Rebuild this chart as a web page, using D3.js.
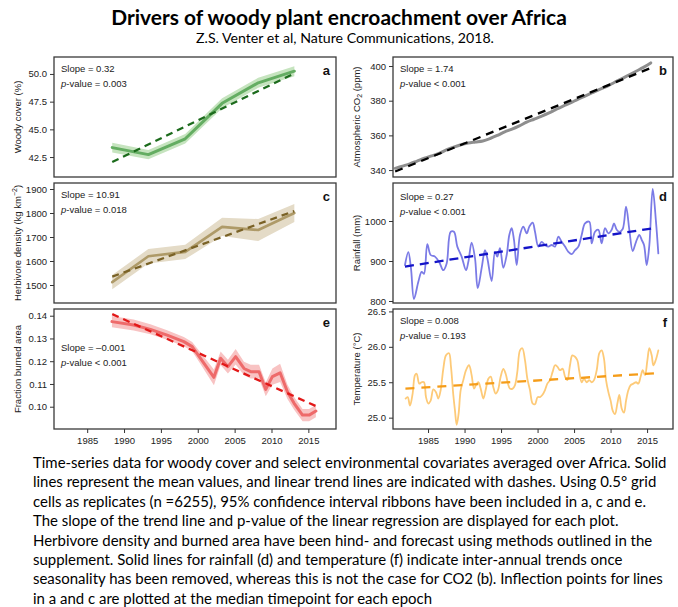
<!DOCTYPE html>
<html>
<head>
<meta charset="utf-8">
<title>Drivers of woody plant encroachment over Africa</title>
<script src="https://d3js.org/d3.v7.min.js"></script>
<style>
    body { margin: 0; background: #fff; }
    svg { display: block; }
    .tick text { font-family: "Liberation Sans", Arial, sans-serif; }
</style>
</head>
<body>
<script>
// ---- data ----
// epochs (a, c): median timepoint of each epoch
var epochYears = [1988.4, 1993.3, 1998.3, 2003.3, 2008.2, 2013.1];
var woodyMean = [43.35, 42.72, 44.15, 47.35, 49.2, 50.25];
var woodyCI = [0.45, 0.42, 0.42, 0.45, 0.45, 0.45];
var woodyTrend = [[1988.4, 42.05], [2013.1, 50.05]];

var herbMean = [1512, 1620, 1638, 1742, 1729, 1800];
var herbCI = [30, 30, 30, 38, 46, 38];
var herbTrend = [[1988.4, 1535], [2013.1, 1808]];

// b : CO2 (ppm)
var co2Years = [1980.5, 1981.5, 1982.5, 1983.5, 1984.5, 1985.5, 1986.5, 1987.5, 1988.5, 1989.5,
    1990.5, 1991.5, 1992.5, 1993.5, 1994.5, 1995.5, 1996.5, 1997.5, 1998.5, 1999.5,
    2000.5, 2001.5, 2002.5, 2003.5, 2004.5, 2005.5, 2006.5, 2007.5, 2008.5, 2009.5,
    2010.5, 2011.5, 2012.5, 2013.5, 2014.5, 2015.5];
var co2 = [341.0, 342.3, 343.6, 345.2, 346.8, 348.2, 349.6, 351.6, 353.2, 354.6,
    355.6, 356.2, 356.8, 358.2, 360.0, 362.0, 363.6, 365.5, 367.6, 369.3,
    371.0, 372.8, 374.9, 376.9, 378.7, 380.8, 382.7, 384.6, 386.5, 388.3,
    390.5, 392.6, 394.8, 397.0, 399.2, 401.8];
var co2Trend = [[1980.5, 339.2], [2015.6, 399.0]];

// d : rainfall (mm), seasonality removed
var rainYears = [1981.84, 1982.30, 1982.66, 1983.07, 1983.67, 1984.12, 1984.44, 1984.90, 1985.36, 1985.95,
    1986.54, 1987.09, 1987.55, 1988.10, 1988.55, 1989.01, 1989.60, 1990.20, 1990.52, 1990.97,
    1991.43, 1991.80, 1992.34, 1992.80, 1993.12, 1993.71, 1994.17, 1994.49, 1994.85, 1995.31,
    1995.77, 1996.13, 1996.45, 1996.77, 1997.14, 1997.59, 1998.05, 1998.51, 1998.87, 1999.33,
    1999.65, 2000.11, 2000.56, 2001.02, 2001.48, 2001.93, 2002.39, 2002.85, 2003.30, 2003.76,
    2004.22, 2004.67, 2005.13, 2005.59, 2006.04, 2006.50, 2007.09, 2007.41, 2007.87, 2008.33,
    2008.78, 2009.24, 2009.70, 2010.15, 2010.47, 2010.84, 2011.20, 2011.66, 2012.12, 2012.57,
    2013.03, 2013.49, 2013.94, 2014.26, 2014.58, 2014.95, 2015.31, 2015.77, 2016.22, 2016.54];
var rain = [890, 922, 882, 805, 848, 873, 868, 942, 915, 911,
    897, 877, 894, 973, 973, 936, 911, 877, 898, 946,
    907, 832, 882, 927, 907, 850, 923, 911, 932, 883,
    915, 965, 982, 953, 890, 965, 986, 969, 986, 996,
    973, 936, 948, 940, 936, 940, 936, 961, 948, 936,
    923, 917, 927, 936, 965, 994, 998, 944, 973, 978,
    944, 982, 969, 978, 994, 978, 973, 980, 1036, 978,
    925, 948, 965, 953, 940, 890, 940, 1080, 998, 919];
var rainTrend = [[1981.84, 886], [2016.2, 983]];

// e : fraction burned area
var fireYears = [1988.36, 1991.30, 1993.57, 1995.84, 1998.11, 1999.24, 2000.37, 2002.19, 2003.10, 2004.09,
    2005.14, 2006.27, 2007.18, 2008.31, 2009.22, 2010.12, 2011.17, 2012.16, 2013.07, 2014.21,
    2015.11, 2016.02];
var fireMean = [0.1374, 0.1359, 0.1340, 0.1315, 0.1286, 0.1264, 0.1213, 0.1129, 0.1213, 0.1176,
    0.1220, 0.1168, 0.1154, 0.1154, 0.1076, 0.1132, 0.1149, 0.1066, 0.1015, 0.0963,
    0.0963, 0.0981];
var fireCI = [0.0025, 0.0024, 0.0022, 0.0021, 0.0020, 0.0020, 0.0025, 0.0035, 0.0030, 0.0030,
    0.0034, 0.0030, 0.0030, 0.0030, 0.0030, 0.0036, 0.0040, 0.0032, 0.0028, 0.0027,
    0.0027, 0.0027];
var fireTrend = [[1988.4, 0.1407], [2016.0, 0.1003]];

// f : temperature (°C), seasonality removed
var tempYears = [1981.93, 1982.21, 1982.53, 1982.89, 1983.21, 1983.44, 1983.80, 1984.12, 1984.44, 1984.72,
    1985.04, 1985.36, 1985.72, 1986.09, 1986.41, 1986.73, 1987.09, 1987.46, 1987.87, 1988.14,
    1988.46, 1988.69, 1988.92, 1989.19, 1989.47, 1989.83, 1990.20, 1990.61, 1990.97, 1991.29,
    1991.57, 1991.89, 1992.21, 1992.57, 1992.89, 1993.26, 1993.58, 1993.94, 1994.26, 1994.58,
    1994.95, 1995.31, 1995.63, 1995.95, 1996.22, 1996.59, 1996.91, 1997.23, 1997.59, 1997.91,
    1998.28, 1998.60, 1998.96, 1999.33, 1999.65, 2000.01, 2000.33, 2000.65, 2001.02, 2001.34,
    2001.70, 2002.07, 2002.39, 2002.71, 2003.07, 2003.44, 2003.76, 2004.08, 2004.44, 2004.76,
    2005.13, 2005.45, 2005.72, 2006.04, 2006.36, 2006.73, 2007.09, 2007.41, 2007.73, 2008.10,
    2008.46, 2008.78, 2009.10, 2009.38, 2009.70, 2010.01, 2010.29, 2010.61, 2010.93, 2011.20,
    2011.52, 2011.84, 2012.12, 2012.44, 2012.75, 2013.12, 2013.49, 2013.80, 2014.12, 2014.40,
    2014.72, 2015.04, 2015.31, 2015.63, 2015.86, 2016.18, 2016.54];
var temp = [25.27, 25.29, 25.17, 25.34, 25.60, 25.62, 25.48, 25.50, 25.50, 25.29,
    25.20, 25.24, 25.40, 25.36, 25.27, 25.39, 25.69, 25.88, 25.91, 25.72,
    25.32, 25.10, 24.90, 25.06, 25.39, 25.53, 25.67, 25.74, 25.60, 25.41,
    25.46, 25.50, 25.41, 25.27, 25.39, 25.55, 25.58, 25.43, 25.34, 25.39,
    25.58, 25.69, 25.62, 25.48, 25.41, 25.41, 25.46, 25.65, 25.95, 25.98,
    25.81, 25.55, 25.39, 25.20, 25.19, 25.29, 25.29, 25.32, 25.39, 25.48,
    25.53, 25.65, 25.74, 25.72, 25.67, 25.69, 25.58, 25.53, 25.74, 25.88,
    25.86, 25.81, 25.65, 25.50, 25.55, 25.50, 25.53, 25.50, 25.53, 25.67,
    25.91, 25.95, 25.83, 25.53, 25.36, 25.24, 25.10, 25.05, 25.20, 25.32,
    25.13, 25.07, 25.24, 25.39, 25.46, 25.48, 25.50, 25.48, 25.58, 25.67,
    25.60, 25.81, 25.98, 25.88, 25.74, 25.81, 25.95];
var tempTrend = [[1981.9, 25.41], [2016.5, 25.63]];

var xTicks = [1985, 1990, 1995, 2000, 2005, 2010, 2015];

var caption = [
    "Time-series data for woody cover and select environmental covariates averaged over Africa. Solid",
    "lines represent the mean values, and linear trend lines are indicated with dashes. Using 0.5° grid",
    "cells as replicates (n =6255), 95% confidence interval ribbons have been included in a, c and e.",
    "The slope of the trend line and p-value of the linear regression are displayed for each plot.",
    "Herbivore density and burned area have been hind- and forecast using methods outlined in the",
    "supplement. Solid lines for rainfall (d) and temperature (f) indicate inter-annual trends once",
    "seasonality has been removed, whereas this is not the case for CO2 (b). Inflection points for lines",
    "in a and c are plotted at the median timepoint for each epoch"
];

// ---- drawing ----
var W = 678, H = 607;
var svg = d3.select("body").append("svg").attr("width", W).attr("height", H);
svg.append("rect").attr("width", W).attr("height", H).attr("fill", "#fff");

var axisFont = '"Liberation Sans", Arial, sans-serif';

function zip(xs, ys) { return xs.map(function(x, i) { return [x, ys[i]]; }); }

function fitWidth(t, target) {
    var w = t.node().getComputedTextLength();
    var fs = parseFloat(t.attr("font-size"));
    t.attr("font-size", fs * target / w);
    return fs * target / w;
}

function panel(p) {
    var g = svg.append("g");
    var x = d3.scaleLinear().domain(p.xDomain).range([p.left, p.right]);
    var y = d3.scaleLinear().domain(p.yDomain).range([p.bottom, p.top]);

    // ribbon
    if (p.ribbon) {
        g.append("path")
            .datum(p.ribbon)
            .attr("fill", p.ribbonColor)
            .attr("d", d3.area().x(function(d) { return x(d[0]); })
                .y0(function(d) { return y(d[1] - d[2]); })
                .y1(function(d) { return y(d[1] + d[2]); }));
    }
    // mean line
    g.append("path")
        .datum(p.line)
        .attr("fill", "none")
        .attr("stroke", p.lineColor)
        .attr("stroke-width", p.lineWidth)
        .attr("stroke-linejoin", "round")
        .attr("stroke-linecap", "round")
        .attr("d", d3.line().x(function(d) { return x(d[0]); }).y(function(d) { return y(d[1]); })
            .curve(p.smooth ? d3.curveCatmullRom.alpha(0.5) : d3.curveLinear));
    // trend
    g.append("path")
        .datum(p.trend)
        .attr("fill", "none")
        .attr("stroke", p.trendColor)
        .attr("stroke-width", 2.3)
        .attr("stroke-dasharray", p.dash)
        .attr("d", d3.line().x(function(d) { return x(d[0]); }).y(function(d) { return y(d[1]); }));

    // frame
    g.append("rect")
        .attr("x", p.left).attr("y", p.top)
        .attr("width", p.right - p.left).attr("height", p.bottom - p.top)
        .attr("fill", "none").attr("stroke", "#3a3a3a").attr("stroke-width", 1.3);

    // y axis
    var ya = g.append("g")
        .attr("transform", "translate(" + p.left + ",0)")
        .call(d3.axisLeft(y).tickValues(p.yTicks).tickFormat(d3.format(p.fmt)).tickSize(4).tickPadding(3));
    ya.select(".domain").remove();
    ya.selectAll("line").attr("stroke", "#333");
    ya.selectAll("text").attr("font-size", 9.5).attr("fill", "#222");

    if (p.showX) {
        var xa = g.append("g")
            .attr("transform", "translate(0," + p.bottom + ")")
            .call(d3.axisBottom(x).tickValues(xTicks).tickFormat(d3.format("d")).tickSize(4).tickPadding(4));
        xa.select(".domain").remove();
        xa.selectAll("line").attr("stroke", "#333");
        xa.selectAll("text").attr("font-size", 9.5).attr("fill", "#222");
    }

    // y label
    var cy = (p.top + p.bottom) / 2;
    var lab = g.append("text")
        .attr("transform", "translate(" + p.labelX + "," + cy + ") rotate(-90)")
        .attr("text-anchor", "middle")
        .attr("dominant-baseline", "central")
        .attr("font-family", axisFont)
        .attr("font-size", 9.5)
        .attr("fill", "#222");
    p.label.forEach(function(part) {
        var t = lab.append("tspan").text(part.t);
        if (part.sub) t.attr("font-size", 7).attr("dy", 2.5);
        if (part.sup) t.attr("font-size", 7).attr("dy", -3.5);
        if (part.reset) t.attr("dy", part.reset);
    });

    // slope / p-value
    var tx = p.left + 7;
    g.append("text")
        .attr("x", tx).attr("y", p.top + p.textDy)
        .attr("dominant-baseline", "central")
        .attr("font-family", axisFont).attr("font-size", 9.5).attr("fill", "#222")
        .text("Slope = " + p.slope);
    var pv = g.append("text")
        .attr("x", tx).attr("y", p.top + p.textDy + 15)
        .attr("dominant-baseline", "central")
        .attr("font-family", axisFont).attr("font-size", 9.5).attr("fill", "#222");
    pv.append("tspan").attr("font-style", "italic").text("p");
    pv.append("tspan").text("-value " + p.pval);

    // panel letter
    g.append("text")
        .attr("x", p.right - 6).attr("y", p.top + 13)
        .attr("text-anchor", "end")
        .attr("dominant-baseline", "central")
        .attr("font-family", axisFont).attr("font-weight", "bold").attr("font-size", 13)
        .attr("fill", "#111")
        .text(p.letter);
}

var L = { left: 54, right: 336, labelX: 17, xDomain: [1980.5, 2018.75] };
var R = { left: 393, right: 673, labelX: 356, xDomain: [1980.2, 2018.55] };
var rows = [[57, 177], [183, 303], [309, 429]];

function cfg(col, row, o) {
    var c = Object.assign({}, col, { top: rows[row][0], bottom: rows[row][1], textDy: 11 }, o);
    return c;
}

panel(cfg(L, 0, {
    yDomain: [40.7, 51.53], yTicks: [42.5, 45, 47.5, 50], fmt: ".1f",
    ribbon: epochYears.map(function(yr, i) { return [yr, woodyMean[i], woodyCI[i]]; }),
    ribbonColor: "#c6e4bf",
    line: zip(epochYears, woodyMean), lineColor: "#64ad62", lineWidth: 3,
    trend: woodyTrend, trendColor: "#1c6b1c", dash: "7,5",
    label: [{ t: "Woody cover (%)" }],
    slope: "0.32", pval: "= 0.003", letter: "a"
}));

panel(cfg(R, 0, {
    yDomain: [336, 405.2], yTicks: [340, 360, 380, 400], fmt: "d",
    line: zip(co2Years, co2), lineColor: "#8e8e8e", lineWidth: 3, smooth: true,
    trend: co2Trend, trendColor: "#000", dash: "8,6",
    label: [{ t: "Atmospheric CO" }, { t: "2", sub: true }, { t: " (ppm)", reset: -2.5 }],
    slope: "1.74", pval: "< 0.001", letter: "b"
}));

panel(cfg(L, 1, {
    yDomain: [1425, 1925], yTicks: [1500, 1600, 1700, 1800, 1900], fmt: "d",
    ribbon: epochYears.map(function(yr, i) { return [yr, herbMean[i], herbCI[i]]; }),
    ribbonColor: "#e4dbc7",
    line: zip(epochYears, herbMean), lineColor: "#ae9a68", lineWidth: 2.6,
    trend: herbTrend, trendColor: "#7a6226", dash: "7,5",
    label: [{ t: "Herbivore density (kg km" }, { t: "\u22122", sup: true }, { t: ")", reset: 3.5 }],
    slope: "10.91", pval: "= 0.018", letter: "c"
}));

panel(cfg(R, 1, {
    yDomain: [795, 1095], yTicks: [800, 900, 1000], fmt: "d",
    line: zip(rainYears, rain), lineColor: "#7b7be6", lineWidth: 1.8, smooth: true,
    trend: rainTrend, trendColor: "#1414c8", dash: "9,6",
    label: [{ t: "Rainfall (mm)" }],
    slope: "0.27", pval: "< 0.001", letter: "d", textDy: 13
}));

panel(cfg(L, 2, {
    yDomain: [0.0902, 0.14295], yTicks: [0.10, 0.11, 0.12, 0.13, 0.14], fmt: ".2f",
    ribbon: fireYears.map(function(yr, i) { return [yr, fireMean[i], fireCI[i]]; }),
    ribbonColor: "#f8c3c3",
    line: zip(fireYears, fireMean), lineColor: "#ee6a6a", lineWidth: 3,
    trend: fireTrend, trendColor: "#e21818", dash: "7,5",
    label: [{ t: "Fraction burned area" }],
    slope: "\u20130.001", pval: "< 0.001", letter: "e", textDy: 38, showX: true
}));

panel(cfg(R, 2, {
    yDomain: [24.84, 26.534], yTicks: [25, 25.5, 26, 26.5], fmt: ".1f",
    line: zip(tempYears, temp), lineColor: "#fdca78", lineWidth: 1.8, smooth: true,
    trend: tempTrend, trendColor: "#f59c18", dash: "9,7",
    label: [{ t: "Temperature (\u00b0C)" }],
    slope: "0.008", pval: "= 0.193", letter: "f", showX: true
}));

// ---- title, subtitle, caption ----
var textFont = 'Lato, "Open Sans", sans-serif';
var title = svg.append("text")
    .attr("x", 339).attr("y", 25).attr("text-anchor", "middle")
    .attr("font-family", textFont).attr("font-weight", "bold").attr("font-size", 21)
    .attr("fill", "#000")
    .text("Drivers of woody plant encroachment over Africa");
fitWidth(title, 456);

var sub = svg.append("text")
    .attr("x", 345).attr("y", 43).attr("text-anchor", "middle")
    .attr("font-family", textFont).attr("font-size", 14)
    .attr("fill", "#000")
    .text("Z.S. Venter et al, Nature Communications, 2018.");
fitWidth(sub, 298);

var capSize = 14;
caption.forEach(function(line, i) {
    var t = svg.append("text")
        .attr("x", 33).attr("y", 468 + i * 19.4)
        .attr("font-family", textFont).attr("font-size", capSize)
        .attr("fill", "#000")
        .text(line);
    if (i === 0) capSize = fitWidth(t, 634);
});
</script>
</body>
</html>
